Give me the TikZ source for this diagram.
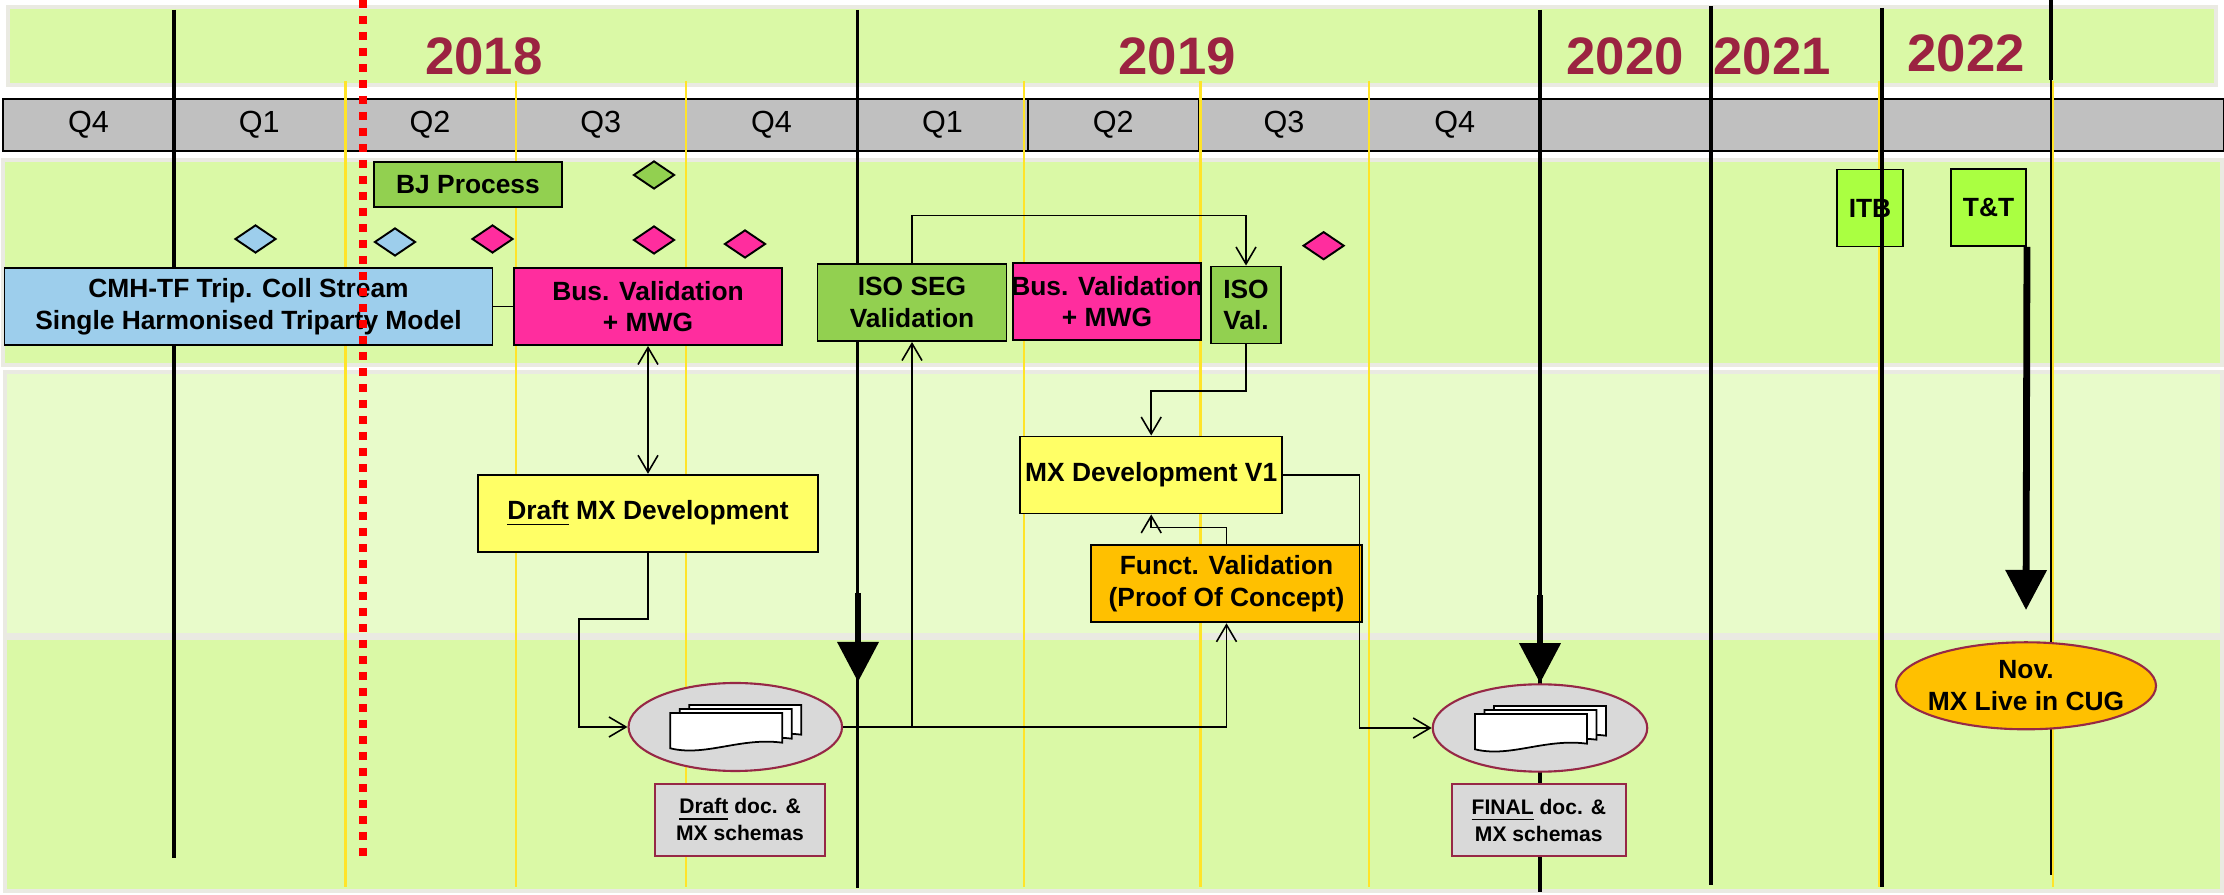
\documentclass[tikz,border=0pt]{standalone}
\usepackage{fontspec}
\setmainfont{Liberation Sans}
\usepackage{xcolor}
\usepackage{tikz}
\usetikzlibrary{arrows.meta,positioning,shapes.geometric}

\definecolor{bandgreen}{RGB}{218,249,166}
\definecolor{bandlight}{RGB}{232,251,202}
\definecolor{bandedge}{RGB}{234,234,226}
\definecolor{qgray}{RGB}{192,192,192}
\definecolor{qyellow}{RGB}{255,228,40}
\definecolor{yearred}{RGB}{155,35,65}
\definecolor{cmhblue}{RGB}{157,206,236}
\definecolor{busmag}{RGB}{255,45,158}
\definecolor{isogreen}{RGB}{146,208,80}
\definecolor{itbgreen}{RGB}{170,255,65}
\definecolor{devyellow}{RGB}{255,255,102}
\definecolor{functorange}{RGB}{255,192,0}
\definecolor{docgray}{RGB}{217,217,217}
\definecolor{docred}{RGB}{150,40,70}

\begin{document}
\begin{tikzpicture}[x=0.1mm, y=-0.1mm, every node/.style={font=\fontsize{7.5}{9}\selectfont\bfseries, align=center}, band/.style={fill=bandgreen, draw=bandedge, line width=0.35mm}, yr/.style={font=\fontsize{15}{18}\selectfont\bfseries, text=yearred, inner sep=0pt}, qcell/.style={rectangle, draw=black, line width=0.45pt, fill=qgray, minimum width=17.08mm, minimum height=5.2mm, inner sep=0pt, outer sep=0pt, font=\fontsize{8.7}{10}\selectfont}, task/.style={rectangle, draw=black, line width=0.55pt, inner sep=0.5mm, minimum height=7.7mm}, mstone/.style={diamond, draw=black, line width=0.55pt, minimum width=4.1mm, minimum height=2.8mm, inner sep=0pt}, docnode/.style={ellipse, draw=docred, fill=docgray, line width=0.6pt, inner sep=0pt}, doclabel/.style={rectangle, draw=docred, fill=docgray, line width=0.6pt, minimum height=7.2mm, font=\fontsize{6}{7.6}\selectfont\bfseries}, link/.style={line width=0.45pt}, pics/docstack/.style={code={
\draw[fill=white, line width=0.5pt] (-46,-22) -- (66,-22) -- (66,7.7) .. controls (24,2) and (-11,22) .. (-46,13.3) -- cycle;
\draw[fill=white, line width=0.5pt] (-55.5,-18) -- (56.5,-18) -- (56.5,11.7) .. controls (14.5,6) and (-20.5,26) .. (-55.5,17.3) -- cycle;
\draw[fill=white, line width=0.5pt] (-65,-14) -- (47,-14) -- (47,15.7) .. controls (5,10) and (-30,30) .. (-65,21.3) -- cycle;
}}]
\useasboundingbox (0,0) rectangle (2224,895);
\path[band] (8,7) rectangle (2216,85);
\path[band] (3,160) rectangle (2222,365);
\path[band, fill=bandlight] (5,372) rectangle (2222,635);
\path[band] (5,638) rectangle (2222,891);
\node[yr, anchor=base] (y18) at (484,75) {2018};
\node[yr, anchor=base] (y19) at (1177,75) {2019};
\node[yr, anchor=base] (y20) at (1625,75) {2020};
\node[yr, anchor=base] (y21) at (1772,75) {2021};
\node[yr, anchor=base] (y22) at (1966,72) {2022};
\node[qcell, anchor=west] (qa) at (3,125) {Q4};
\node[qcell, right=0pt of qa] (qb) {Q1};
\node[qcell, right=0pt of qb] (qc) {Q2};
\node[qcell, right=0pt of qc] (qd) {Q3};
\node[qcell, right=0pt of qd] (qe) {Q4};
\node[qcell, right=0pt of qe] (qf) {Q1};
\node[qcell, right=0pt of qf] (qg) {Q2};
\node[qcell, right=0pt of qg] (qh) {Q3};
\node[qcell, right=0pt of qh] (qi) {Q4};
\node[qcell, right=0pt of qi] (qj) {};
\node[qcell, right=0pt of qj] (qk) {};
\node[qcell, right=0pt of qk] (ql) {};
\node[qcell, right=0pt of ql] (qm) {};
\draw[qyellow, line width=0.6pt] (345.5,81) -- (345.5,887);
\draw[qyellow, line width=0.6pt] (516,81) -- (516,887);
\draw[qyellow, line width=0.6pt] (686,81) -- (686,887);
\draw[qyellow, line width=0.6pt] (1024,81) -- (1024,887);
\draw[qyellow, line width=0.6pt] (1200.5,81) -- (1200.5,887);
\draw[qyellow, line width=0.6pt] (1369,81) -- (1369,887);
\draw[qyellow, line width=0.6pt] (1879,81) -- (1879,887);
\draw[qyellow, line width=0.6pt] (2053,81) -- (2053,887);
\node[task, fill=itbgreen, minimum width=6.56mm] (itb) at (1870,208) {ITB};
\draw[line width=0.95pt] (174,10) -- (174,858);
\draw[line width=0.95pt] (857.5,10) -- (857.5,888);
\draw[line width=0.95pt] (1540,10) -- (1540,892);
\draw[line width=0.95pt] (1711,6) -- (1711,885);
\draw[line width=0.95pt] (1882,8) -- (1882,887);
\draw[line width=0.95pt] (2051,0) -- (2051,80);
\draw[line width=0.6pt] (2051,80) -- (2051,875);
\node[task, fill=cmhblue, minimum width=48.8mm] (cmh) at (248.5,306.5) {CMH-TF Trip. Coll Stream\\Single Harmonised Triparty Model};
\node[task, fill=busmag, minimum width=26.8mm] (busval) at (648,306.5) {Bus. Validation\\+ MWG};
\node[task, fill=isogreen, minimum width=18.75mm, minimum height=4.5mm] (bj) at (468,184.5) {BJ Process};
\node[task, fill=isogreen, minimum width=18.9mm] (isoseg) at (912,302.5) {ISO SEG\\Validation};
\node[task, fill=busmag, minimum width=18.75mm, inner xsep=-0.6mm] (busvaltwo) at (1107,301.5) {Bus. Validation\\+ MWG};
\node[task, fill=isogreen, minimum width=7mm] (isoval) at (1246,305) {ISO\\Val.};
\node[task, fill=devyellow, minimum width=33.95mm] (draft) at (648,513.3) {\underline{Draft} MX Development};
\node[task, fill=devyellow, minimum width=26.04mm] (mxvone) at (1151.2,475) {MX Development V1};
\node[task, fill=functorange, minimum width=27.1mm] (funct) at (1226.5,583.8) {Funct. Validation\\(Proof Of Concept)};
\node[task, fill=itbgreen, minimum width=7.5mm] (tt) at (1988.5,207.5) {T\&T};
\node[mstone, fill=cmhblue] (msa) at (255.5,239) {};
\node[mstone, fill=cmhblue] (msb) at (395,242) {};
\node[mstone, fill=busmag] (msc) at (492.5,239) {};
\node[mstone, fill=isogreen] (msd) at (654,175) {};
\node[mstone, fill=busmag] (mse) at (654,240) {};
\node[mstone, fill=busmag] (msf) at (745,244) {};
\node[mstone, fill=busmag] (msg) at (1323.6,245.7) {};
\node[docnode, minimum width=21.35mm, minimum height=8.8mm] (draftdoc) at (735.3,727) {};
\node[docnode, minimum width=21.45mm, minimum height=8.74mm] (finaldoc) at (1540,728) {};
\node[docnode, fill=functorange, minimum width=26mm, minimum height=8.7mm] (golive) at (2026,685.8) {};
\node (golivetxt) at (golive) {Nov.\\MX Live in CUG};
\node[doclabel, minimum width=16.95mm, below=1.05mm of draftdoc, xshift=0.47mm] (draftlbl) {\underline{Draft} doc. \&\\MX schemas};
\node[doclabel, minimum width=17.45mm, below=1.05mm of finaldoc, xshift=-0.12mm] (finallbl) {\underline{FINAL} doc. \&\\MX schemas};
\pic at (draftdoc) {docstack};
\pic at (finaldoc) {docstack};
\coordinate (mda) at (858,593);
\coordinate (mdb) at (858,682);
\coordinate (mdc) at (1540,595);
\coordinate (golivetip) at (2026,610);
\draw[link] (cmh) -- (busval);
\draw[link, {Straight Barb[length=1.7mm,width=2mm]}-{Straight Barb[length=1.7mm,width=2mm]}] (busval) -- (draft);
\draw[link, -{Straight Barb[length=1.7mm,width=2mm]}] (draft.south) -- ++(0,66.3) -| ([xshift=-4.85mm]draftdoc.west) -- (draftdoc.west);
\draw[link, -{Straight Barb[length=1.7mm,width=2mm]}] (draftdoc.east) -| (isoseg.south);
\draw[link, -{Straight Barb[length=1.7mm,width=2mm]}] (draftdoc.east) -| (funct.south);
\draw[link, -{Straight Barb[length=1.7mm,width=2mm]}] (isoseg.north) -- ++(0,-47.5) -| (isoval.north);
\draw[link, -{Straight Barb[length=1.7mm,width=2mm]}] (isoval.south) -- ++(0,46.7) -| (mxvone.north);
\draw[link, -{Straight Barb[length=1.7mm,width=2mm]}] (funct.north) -- ++(0,-16.7) -| (mxvone.south);
\draw[link, -{Straight Barb[length=1.7mm,width=2mm]}] (mxvone.east) -- ++(76.3,0) |- (finaldoc.west);
\draw[line width=0.68mm, -{Triangle[length=4mm,width=4mm]}] (mda) -- (mdb);
\draw[line width=0.68mm, -{Triangle[length=4mm,width=4mm]}] (mdc) -- (finaldoc.north);
\draw[line width=0.68mm, -{Triangle[length=4mm,width=4mm]}] (tt.south east) -- (golivetip);
\draw[red, line width=0.75mm, dash pattern=on 0.77mm off 0.83mm] (363,0) -- (363,862);
\end{tikzpicture}
\end{document}
